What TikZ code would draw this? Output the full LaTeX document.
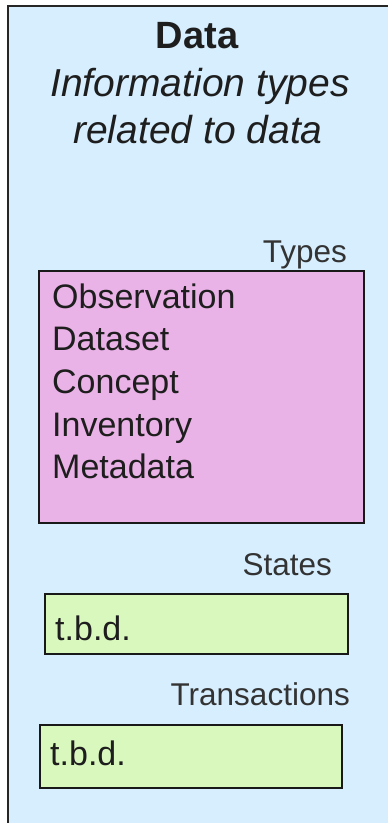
\documentclass[tikz,border=0pt]{standalone}
\usepackage{fontspec}
\setmainfont{Liberation Sans}
\definecolor{bgblue}{HTML}{D6EEFE}
\definecolor{typepink}{HTML}{EAB3E7}
\definecolor{stategreen}{HTML}{D9F8BD}
\definecolor{txt}{HTML}{1E1E1E}
\tikzset{
  outerbox/.style={draw=black!85, line width=2pt, fill=bgblue, anchor=north west, inner sep=0pt},
  innerbox/.style={draw=black!90, line width=1.8pt, anchor=north west, inner sep=0pt},
  titletext/.style={inner sep=0pt, anchor=base, text=txt, font=\fontsize{37}{44}\selectfont},
  labeltext/.style={inner sep=0pt, anchor=base east, text=black!80, font=\fontsize{31.5}{38}\selectfont},
  itemtext/.style={inner sep=0pt, anchor=base west, text=txt, font=\fontsize{34}{40}\selectfont}
}
\begin{document}
\begin{tikzpicture}[x=1pt,y=-1pt]
\useasboundingbox (0,0) rectangle (388,823);
\clip (0,0) rectangle (388,823);
\node[outerbox, minimum width=400pt, minimum height=840pt] (outer) at (7,5) {};
\node[titletext, font=\fontsize{38}{44}\selectfont\bfseries] (title) at (197,48) {Data};
\node[titletext, font=\fontsize{39}{44}\selectfont\itshape] (sub1) at (200,96) {Information types};
\node[titletext, font=\fontsize{39}{44}\selectfont\itshape] (sub2) at (198,143) {related to data};

\node[labeltext] (typeslbl) at (347,262) {Types};
\node[innerbox, fill=typepink, minimum width=325pt, minimum height=252pt] (types) at (38,270) {};
\node[itemtext] (obs) at (52,308) {Observation};
\node[itemtext] (dset) at (52,350) {Dataset};
\node[itemtext] (conc) at (52,393) {Concept};
\node[itemtext] (inv) at (52,436) {Inventory};
\node[itemtext] (meta) at (52,478) {Metadata};

\node[labeltext] (stateslbl) at (332,575) {States};
\node[innerbox, fill=stategreen, minimum width=303pt, minimum height=60pt] (states) at (44,593) {};
\node[itemtext] (statestbd) at (55,640) {t.b.d.};

\node[labeltext] (translbl) at (350,705) {Transactions};
\node[innerbox, fill=stategreen, minimum width=302pt, minimum height=63pt] (trans) at (39,724) {};
\node[itemtext] (transtbd) at (50,765) {t.b.d.};
\end{tikzpicture}
\end{document}
